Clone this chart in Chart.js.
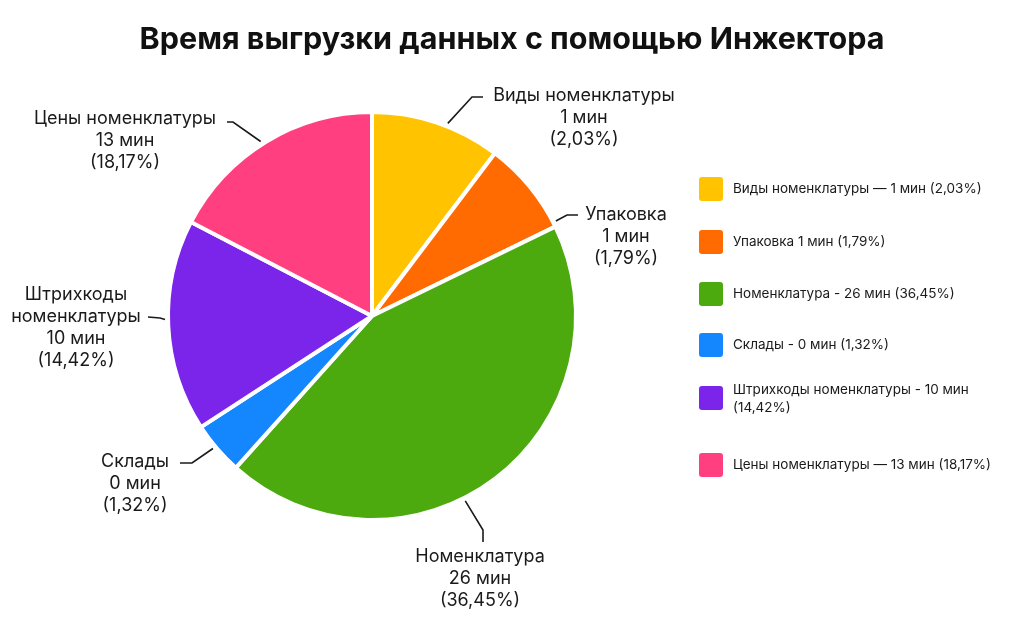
<!DOCTYPE html>
<html lang="ru">
<head>
<meta charset="utf-8">
<title>Время выгрузки данных с помощью Инжектора</title>
<script src="https://cdn.jsdelivr.net/npm/chart.js@4.4.1/dist/chart.umd.min.js"></script>
<style>
  html, body { margin: 0; padding: 0; background: #fff; }
  #wrap { width: 1024px; height: 627px; }
</style>
</head>
<body>
<div id="wrap"><canvas id="chartInjector" width="1024" height="627"></canvas></div>
<script>
// данные
const chartTitle = 'Время выгрузки данных с помощью Инжектора';
const categories = ['Виды номенклатуры', 'Упаковка', 'Номенклатура', 'Склады', 'Штрихкоды номенклатуры', 'Цены номенклатуры'];
const minutes = [1, 1, 26, 0, 10, 13];
const percents = ['2,03%', '1,79%', '36,45%', '1,32%', '14,42%', '18,17%'];
// размер секторов, как они нарисованы на картинке (%)
const sliceShares = [10.3, 7.5, 43.9, 4.2, 16.8, 17.4];
const legendSeparators = [' — ', ' ', ' - ', ' - ', ' - ', ' — '];
const colors = ['#FFC300', '#FF6B00', '#4CA90E', '#1487FF', '#7B24EA', '#FF3F7F'];

// раскладка подписей: t - место на дуге, elbow/end - выноска, x/y - текст
const calloutLayout = [
    { t: 0.58, elbow: [472, 97], end: [483, 97], x: 584, y: 96, split: false },
    { t: 0.95, elbow: [567, 215], end: [578, 215], x: 626, y: 215, split: true },
    { t: 0.565, elbow: [483, 530], end: [483, 542], x: 480, y: 557, split: false },
    { t: 0.55, elbow: [192, 463], end: [180, 463], x: 135, y: 462, split: false },
    { t: 0.53, elbow: [160, 318], end: [148, 317], x: 76, y: 295, split: true },
    { t: 0.48, elbow: [233, 122], end: [227, 122], x: 125, y: 119, split: false }
];
const legendRowsY = [189, 242, 294, 345, 398, 465];

const calloutsPlugin = {
    id: 'callouts',
    afterDraw(chart) {
        const ctx = chart.ctx;
        const arcs = chart.getDatasetMeta(0).data;
        ctx.save();

        // заголовок
        ctx.fillStyle = '#111';
        ctx.font = 'bold 30.5px Inter';
        ctx.textAlign = 'center';
        ctx.textBaseline = 'middle';
        ctx.fillText(chartTitle, 512, 40);

        // подписи с выносками
        ctx.font = '18px Inter';
        ctx.strokeStyle = '#1a1a1a';
        ctx.lineWidth = 1.6;
        arcs.forEach((arc, i) => {
            const lay = calloutLayout[i];
            const p = arc.getProps(['x', 'y', 'startAngle', 'endAngle', 'outerRadius']);
            const a = p.startAngle + (p.endAngle - p.startAngle) * lay.t;
            const r = p.outerRadius + 3;
            ctx.beginPath();
            ctx.moveTo(p.x + Math.cos(a) * r, p.y + Math.sin(a) * r);
            ctx.lineTo(lay.elbow[0], lay.elbow[1]);
            ctx.lineTo(lay.end[0], lay.end[1]);
            ctx.stroke();

            const nameLines = lay.split && categories[i].indexOf(' ') > 0
                ? categories[i].split(' ') : [categories[i]];
            const lines = nameLines.concat([minutes[i] + ' мин', '(' + percents[i] + ')']);
            ctx.fillStyle = '#1a1a1a';
            lines.forEach((txt, k) => {
                ctx.fillText(txt, lay.x, lay.y + k * 21.7);
            });
        });

        // легенда
        ctx.font = '13.5px Inter';
        ctx.textAlign = 'left';
        categories.forEach((cat, i) => {
            const cy = legendRowsY[i];
            ctx.fillStyle = colors[i];
            ctx.beginPath();
            ctx.roundRect(699, cy - 12, 24, 24, 3);
            ctx.fill();

            const text = cat + legendSeparators[i] + minutes[i] + ' мин (' + percents[i] + ')';
            ctx.fillStyle = '#1a1a1a';
            if (ctx.measureText(text).width > 270) {
                const cut = text.lastIndexOf(' (');
                ctx.fillText(text.slice(0, cut), 733, cy - 8);
                ctx.fillText(text.slice(cut + 1), 733, cy + 10);
            } else {
                ctx.fillText(text, 733, cy);
            }
        });
        ctx.restore();
    }
};

const data = {
    labels: categories,
    datasets: [{
        label: 'Время выгрузки',
        data: sliceShares,
        backgroundColor: colors,
        borderColor: '#ffffff',
        borderWidth: 4,
        hoverOffset: 0
    }]
};

const config = {
    type: 'pie',
    data: data,
    options: {
        responsive: false,
        animation: false,
        layout: {
            padding: { left: 166, right: 446, top: 108, bottom: 103 }
        },
        plugins: {
            legend: { display: false },
            title: { display: false },
            tooltip: { enabled: false }
        }
    },
    plugins: [calloutsPlugin]
};

document.fonts.load('18px Inter').then(() => document.fonts.load('bold 30.5px Inter')).finally(() => {
    const canvasPie = document.getElementById('chartInjector');
    const graficoPie = new Chart(canvasPie, config);
});
</script>
</body>
</html>
